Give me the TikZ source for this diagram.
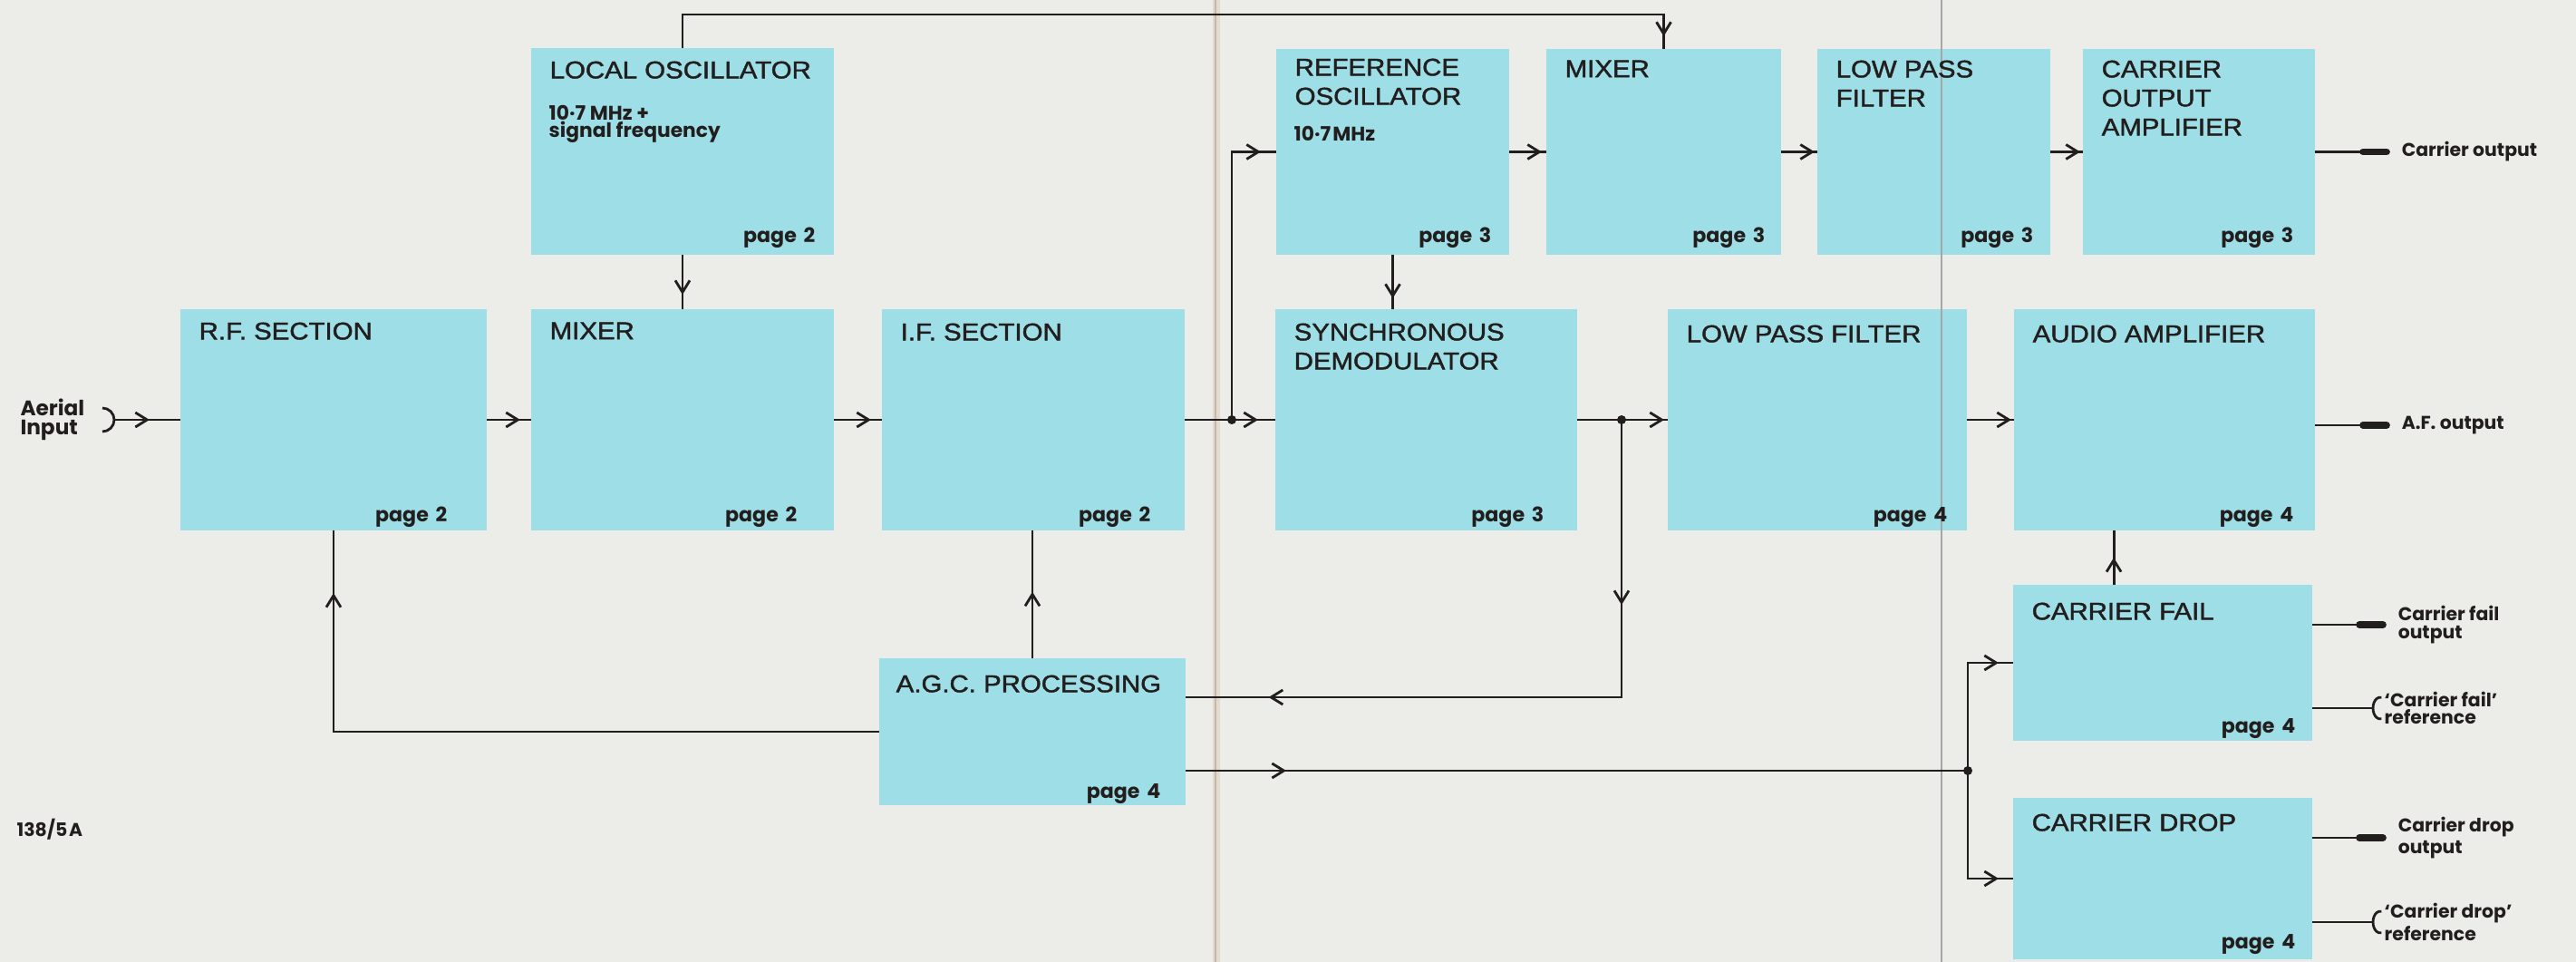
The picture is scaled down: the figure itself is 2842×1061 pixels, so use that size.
\documentclass[tikz,border=0pt]{standalone}
\usepackage{fontspec}
\setmainfont{Liberation Sans}
\newfontfamily\ttlfont[FakeStretch=1.1,FakeBold=1.6]{Liberation Sans}
\newfontfamily\smfont{Poppins}
\usetikzlibrary{arrows.meta,decorations.markings,fit}

\definecolor{bg}{RGB}{236,236,233}
\definecolor{boxc}{RGB}{158,223,231}
\definecolor{ink}{RGB}{35,30,30}
\definecolor{foldc}{RGB}{228,218,206}
\definecolor{foldd}{RGB}{200,184,168}

\newcommand\pgtxt[1]{page\kern2.2pt #1}

\tikzset{
  blk/.style={fill=boxc, inner sep=0pt, outer sep=0pt},
  ttl/.style={font=\ttlfont\fontsize{7.6}{9.1}\selectfont, text=ink, inner sep=0pt, anchor=north west, align=left},
  pg/.style={font=\smfont\bfseries\fontsize{6.3}{6.3}\selectfont, text=ink, inner sep=0pt, anchor=base east},
  sm/.style={font=\smfont\bfseries\fontsize{5.8}{5.5}\selectfont, text=ink, inner sep=0pt, align=left},
  wire/.style={draw=ink, line width=0.8pt},
  plug/.style={draw=ink, line width=2.2pt, line cap=round},
  dotc/.style={fill=ink},
  tipat/.style={postaction={decorate, decoration={markings, mark=at position #1 with {\arrow{Straight Barb[length=0.13cm,width=0.16cm,line width=0.8pt]}}}}},
}

\begin{document}
\begin{tikzpicture}[x=0.01cm,y=-0.01cm]
\fill[bg] (0,0) rectangle (2842,1061);
\useasboundingbox (0,0) rectangle (2842,1061);

% paper fold
\draw[foldc, line width=2.5pt] (1342,0) -- (1342,1061);
\draw[foldd, line width=0.4pt] (1341,0) -- (1341,1061);

% blocks
\node[blk, fit={(586,53)(920,281)}] (lo) {};
\node[blk, fit={(199,341)(537,585)}] (rf) {};
\node[blk, fit={(586,341)(920,585)}] (mix1) {};
\node[blk, fit={(973,341)(1307,585)}] (ifs) {};
\node[blk, fit={(1408,54)(1665,281)}] (ro) {};
\node[blk, fit={(1706,54)(1965,281)}] (mix2) {};
\node[blk, fit={(2005,54)(2262,281)}] (lpf1) {};
\node[blk, fit={(2298,54)(2554,281)}] (coa) {};
\node[blk, fit={(1407,341)(1740,585)}] (sync) {};
\node[blk, fit={(1840,341)(2170,585)}] (lpf2) {};
\node[blk, fit={(2222,341)(2554,585)}] (aa) {};
\node[blk, fit={(970,726)(1308,888)}] (agc) {};
\node[blk, fit={(2221,645)(2551,817)}] (cf) {};
\node[blk, fit={(2221,880)(2551,1058)}] (cd) {};

% second fold line
\draw[gray!70, line width=0.4pt] (2142,0) -- (2142,1061);

% titles
\node[ttl] (lo-t) at ([shift={(20,14)}]lo.north west) {LOCAL OSCILLATOR};
\node[ttl] (rf-t) at ([shift={(20,14)}]rf.north west) {R.F. SECTION};
\node[ttl] (mix1-t) at ([shift={(20,14)}]mix1.north west) {MIXER};
\node[ttl] (ifs-t) at ([shift={(20,15)}]ifs.north west) {I.F. SECTION};
\node[ttl] (ro-t) at ([shift={(20,10)}]ro.north west) {REFERENCE\\OSCILLATOR};
\node[ttl] (mix2-t) at ([shift={(20,12)}]mix2.north west) {MIXER};
\node[ttl] (lpf1-t) at ([shift={(20,12)}]lpf1.north west) {LOW PASS\\FILTER};
\node[ttl] (coa-t) at ([shift={(20,12)}]coa.north west) {CARRIER\\OUTPUT\\AMPLIFIER};
\node[ttl] (sync-t) at ([shift={(20,15)}]sync.north west) {SYNCHRONOUS\\DEMODULATOR};
\node[ttl] (lpf2-t) at ([shift={(20,17)}]lpf2.north west) {LOW PASS FILTER};
\node[ttl] (aa-t) at ([shift={(20,17)}]aa.north west) {AUDIO AMPLIFIER};
\node[ttl] (agc-t) at ([shift={(18,18)}]agc.north west) {A.G.C. PROCESSING};
\node[ttl] (cf-t) at ([shift={(20,19)}]cf.north west) {CARRIER FAIL};
\node[ttl] (cd-t) at ([shift={(20,17)}]cd.north west) {CARRIER DROP};

% sub labels
\node[sm, anchor=north west, font=\smfont\bfseries\fontsize{6.2}{5.4}\selectfont] (lo-s) at (605,116) {10·7 MHz +\\signal frequency};
\node[sm, anchor=north west, font=\smfont\bfseries\fontsize{6.2}{5.4}\selectfont] (ro-s) at (1427,139) {10·7\kern0.6pt MHz};

% page labels
\node[pg] (lo-p) at (900,268) {\pgtxt{2}};
\node[pg] (rf-p) at (494,575) {\pgtxt{2}};
\node[pg] (mix1-p) at (880,575) {\pgtxt{2}};
\node[pg] (ifs-p) at (1270,575) {\pgtxt{2}};
\node[pg] (ro-p) at (1646,268) {\pgtxt{3}};
\node[pg] (mix2-p) at (1948,268) {\pgtxt{3}};
\node[pg] (lpf1-p) at (2244,268) {\pgtxt{3}};
\node[pg] (coa-p) at (2531,268) {\pgtxt{3}};
\node[pg] (sync-p) at (1704,575) {\pgtxt{3}};
\node[pg] (lpf2-p) at (2149,575) {\pgtxt{4}};
\node[pg] (aa-p) at (2531,575) {\pgtxt{4}};
\node[pg] (agc-p) at (1281,880) {\pgtxt{4}};
\node[pg] (cf-p) at (2533,808) {\pgtxt{4}};
\node[pg] (cd-p) at (2533,1046) {\pgtxt{4}};

% aerial input
\node[sm, anchor=east, font=\smfont\bfseries\fontsize{6.6}{6.0}\selectfont] (aer) at (94,463) {Aerial\\Input};
\coordinate (aerin) at (126,463);
\draw[wire] (113,450) arc[start angle=-90, end angle=90, x radius=13, y radius=13];
\draw[wire, tipat=-0.34cm] (aerin) -- (rf.west);

% main chain
\draw[wire, tipat=-0.12cm] (rf.east) -- (mix1.west);
\draw[wire, tipat=-0.12cm] (mix1.east) -- (ifs.west);
\coordinate (j1) at (1359,463);
\draw[wire, tipat=-0.19cm] (ifs.east) -- (sync.west);
\fill[dotc] (j1) circle[radius=5];
\draw[wire, tipat=-0.17cm] (j1) |- (ro.west);
\draw[wire, tipat=-0.05cm] (ro.east) -- (mix2.west);
\draw[wire, tipat=-0.03cm] (mix2.east) -- (lpf1.west);
\draw[wire, tipat=-0.03cm] (lpf1.east) -- (coa.west);
\coordinate (j2) at (1789,463);
\draw[wire, tipat=-0.04cm] (sync.east) -- (lpf2.west);
\fill[dotc] (j2) circle[radius=5];
\draw[wire, tipat=-0.03cm] (lpf2.east) -- (aa.west);

% vertical links
\draw[wire, tipat=-0.16cm] (lo.south) -- (mix1.north);
\draw[wire, tipat=-0.12cm] (ro.south) -- (ro.south |- sync.north);
\coordinate (toprail) at (0,16);
\draw[wire, tipat=-0.14cm] (lo.north) |- (toprail -| mix2.north) -- (mix2.north);

% AGC
\draw[wire, tipat=0.52] (agc.north) -- (agc.north |- ifs.south);
\draw[wire, tipat=-0.69cm] (agc.west) -| (rf.south);
\coordinate (fb) at (1789,769);
\draw[wire, tipat=2.04cm, tipat=6.95cm] (j2) -- (fb) -- (fb -| agc.east);
\coordinate (j3) at (2171,850);
\draw[wire, tipat=1.11cm] (agc.east |- j3) -- (j3);
\fill[dotc] (j3) circle[radius=5];
\draw[wire, tipat=-0.16cm] (j3) |- (cf.west);
\draw[wire, tipat=-0.16cm] (j3) |- (cd.west);
\coordinate (cfup) at ([xshift=1.11cm]cf.north west);
\draw[wire, tipat=0.5] (cfup) -- (cfup |- aa.south);

% outputs (plugs)
\draw[wire] (coa.east) -- ++(53,0) coordinate (coap);
\draw[plug] (coap) -- ++(26,0);
\node[sm, anchor=west] (coa-o) at ([xshift=0.42cm]coap) {Carrier output};

\draw[wire] (aa.east |- 0,469) -- ++(53,0) coordinate (aap);
\draw[plug] (aap) -- ++(26,0);
\node[sm, anchor=west] (aa-o) at ([xshift=0.42cm]aap) {A.F. output};

\draw[wire] (cf.east |- 0,689) -- ++(52,0) coordinate (cfp);
\draw[plug] (cfp) -- ++(26,0);
\node[sm, anchor=west] (cf-o) at ([xshift=0.42cm]cfp) {Carrier fail\\output};

\draw[wire] (cd.east |- 0,924) -- ++(52,0) coordinate (cdp);
\draw[plug] (cdp) -- ++(26,0);
\node[sm, anchor=west] (cd-o) at ([xshift=0.42cm]cdp) {Carrier drop\\output};

% reference sockets
\draw[wire] (cf.east |- 0,781) -- ++(67,0) coordinate (cfs);
\draw[wire] (cfs) arc[start angle=180, end angle=80, x radius=8, y radius=12];
\draw[wire] (cfs) arc[start angle=180, end angle=280, x radius=8, y radius=12];
\node[sm, anchor=west] (cf-r) at ([xshift=0.12cm]cfs) {‘Carrier fail’\\reference};

\draw[wire] (cd.east |- 0,1017) -- ++(67,0) coordinate (cds);
\draw[wire] (cds) arc[start angle=180, end angle=80, x radius=8, y radius=12];
\draw[wire] (cds) arc[start angle=180, end angle=280, x radius=8, y radius=12];
\node[sm, anchor=west] (cd-r) at ([xshift=0.12cm]cds) {‘Carrier drop’\\reference};

% drawing number
\node[sm, anchor=west] (num) at (18,915) {138/5\kern0.5pt A};
\end{tikzpicture}
\end{document}
